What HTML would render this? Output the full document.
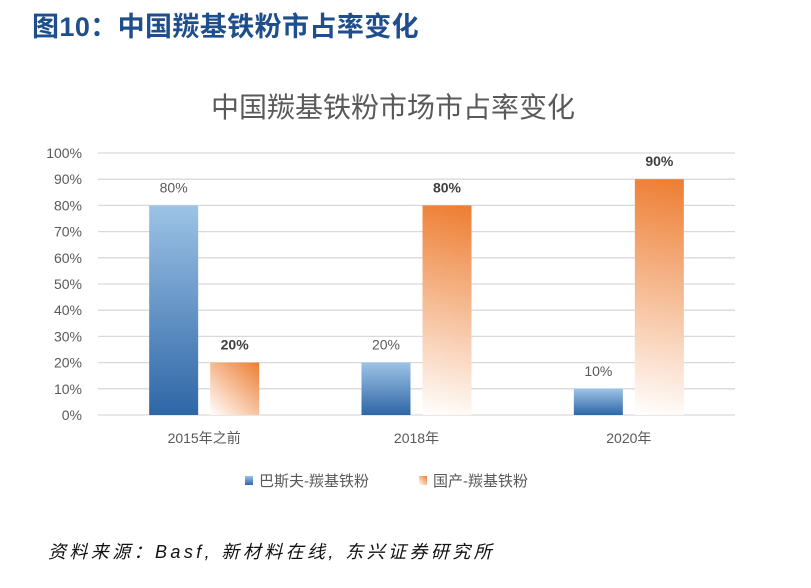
<!DOCTYPE html>
<html><head><meta charset="utf-8"><style>
body{margin:0;background:#fff;width:811px;height:583px;overflow:hidden;font-family:"Liberation Sans","Noto Sans CJK SC",sans-serif}
</style></head><body>
<svg id="svg" width="811" height="583" font-family="Liberation Sans, Noto Sans CJK SC, sans-serif">
<defs id="defs">
<linearGradient id="gb" x1="0" y1="0" x2="0" y2="1"><stop offset="0" stop-color="#9dc3e6"/><stop offset="1" stop-color="#2e66a6"/></linearGradient>
<linearGradient id="go" x1="1" y1="0" x2="0" y2="1"><stop offset="0" stop-color="#ed7d31"/><stop offset="1" stop-color="#ffffff"/></linearGradient>
</defs>
<text x="32" y="36" font-size="27" font-weight="bold" fill="#1f4e8c" letter-spacing="0.4">图10：中国羰基铁粉市占率变化</text>
<text x="393" y="117" font-size="28" fill="#595959" text-anchor="middle">中国羰基铁粉市场市占率变化</text>
<g id="grid"></g><g id="bars"></g>
<rect x="245" y="476" width="8" height="9" fill="url(#gb)"/>
<text x="259" y="486" font-size="15" fill="#595959">巴斯夫-羰基铁粉</text>
<rect x="419" y="476" width="8" height="9" fill="url(#go)"/>
<text x="433" y="486" font-size="15" fill="#595959">国产-羰基铁粉</text>
<text x="48" y="558" font-size="18" font-style="italic" fill="#111" letter-spacing="3.4">资料来源：Basf, 新材料在线, 东兴证券研究所</text>
</svg>
<script>
const categories=["2015年之前","2018年","2020年"];
const basf=[80,20,10];
const domestic=[20,80,90];
const ticks=[0,10,20,30,40,50,60,70,80,90,100];
const ns="http://www.w3.org/2000/svg";
const x0=98,x1=735,y0=415,y100=153;
const y=v=>y0-(y0-y100)*v/100;
const gw=(x1-x0)/categories.length;
function mk(t,a,p){const e=document.createElementNS(ns,t);for(const k in a)e.setAttribute(k,a[k]);p.appendChild(e);return e;}
const grid=document.getElementById('grid'),bars=document.getElementById('bars'),defs=document.getElementById('defs');
ticks.forEach(t=>{
 const l=mk('line',{x1:x0,x2:x1,y1:y(t),y2:y(t),stroke:'#d9d9d9','stroke-width':1.3},grid);
 
 
 const tx=mk('text',{x:82,y:y(t)+5,'font-size':14,fill:'#595959','text-anchor':'end'},grid);
 tx.textContent=t+'%';
 
 
});
categories.forEach((c,i)=>{
 const cx=x0+gw*(i+0.5);
 const bx=cx-55, ox=cx+6, w=49;
 const b=mk('rect',{x:bx,y:y(basf[i]),width:w,height:y0-y(basf[i]),fill:'url(#gb)'},bars);
 
 
 const gy=y(domestic[i]);
 const g=mk('linearGradient',{id:'go'+i,gradientUnits:'userSpaceOnUse',x1:ox+w,y1:gy,x2:ox,y2:y0},defs);
 mk('stop',{offset:0,'stop-color':'#ed7d31'},g);
 mk('stop',{offset:1,'stop-color':'#ffffff'},g);
 const o=mk('rect',{x:ox,y:gy,width:w,height:y0-gy,fill:'url(#go'+i+')'},bars);
 
 
 const lb=mk('text',{x:bx+w/2,y:y(basf[i])-13,'font-size':14,fill:'#595959','text-anchor':'middle'},bars);
 lb.textContent=basf[i]+'%';
 
 
 const lo=mk('text',{x:ox+w/2,y:gy-13,'font-size':14,'font-weight':'bold',fill:'#404040','text-anchor':'middle'},bars);
 lo.textContent=domestic[i]+'%';
 
 
 const cl=mk('text',{x:cx,y:443,'font-size':14,fill:'#595959','text-anchor':'middle'},bars);
 cl.textContent=c;
 
 
});
</script>
</body></html>
